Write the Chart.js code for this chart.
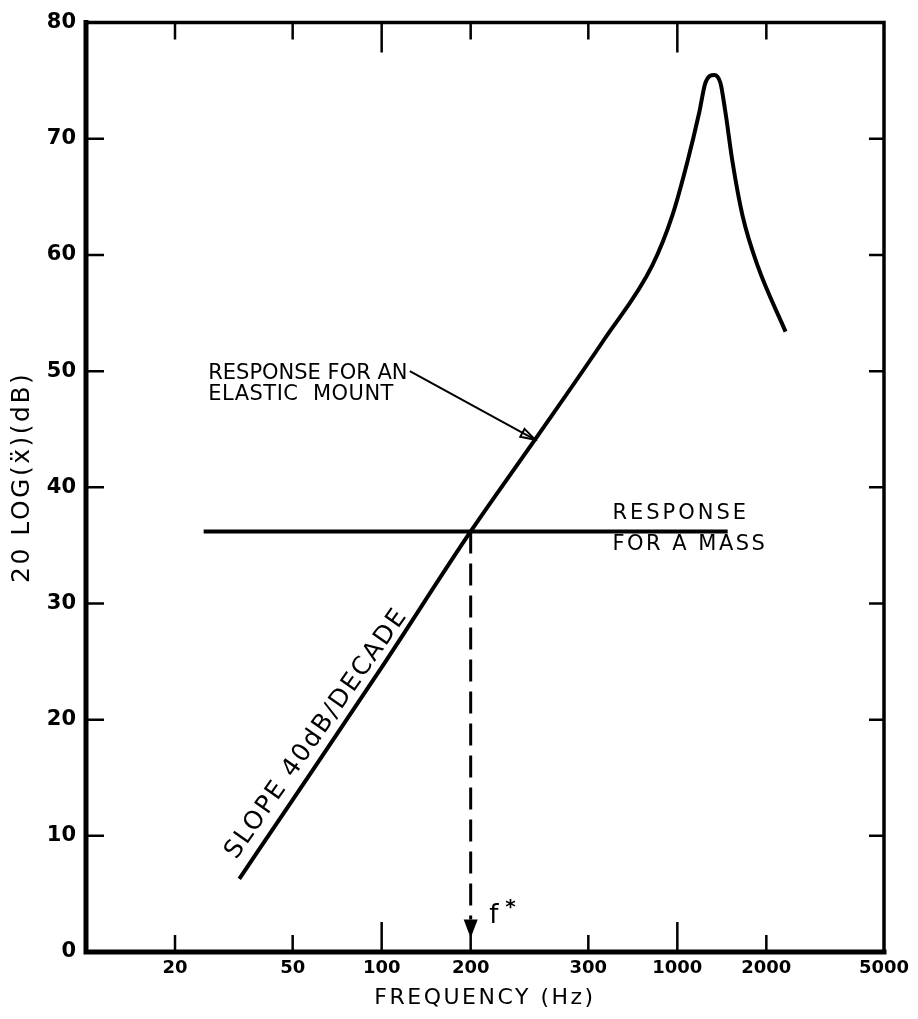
<!DOCTYPE html>
<html>
<head>
<meta charset="utf-8">
<script src="https://cdn.jsdelivr.net/npm/chart.js@4.4.1/dist/chart.umd.min.js"></script>
<style>
    html, body { margin: 0; padding: 0; background: #fff; }
</style>
</head>
<body>
<canvas id="chart" width="918" height="1019"></canvas>
<script>
// axis ticks (the original sheet labels the 500 Hz tick "300")
const xTickValues = [20, 50, 100, 200, 500, 1000, 2000, 5000]
const xTickLabels = ['20', '50', '100', '200', '300', '1000', '2000', '5000']
const xLongTicks = [100, 1000]
const yTickValues = [0, 10, 20, 30, 40, 50, 60, 70, 80]

// response for an elastic mount
const elasticFreq = [33, 50, 100, 200, 330, 565, 823, 962, 1081, 1187, 1244, 1335, 1399, 1454, 1537, 1661, 1867, 2323]
const elasticDb = [6.3, 13.1, 24.5, 36.2, 44.1, 52.7, 59.1, 63.4, 68.0, 72.3, 74.8, 75.5, 74.8, 72.3, 68.0, 63.4, 59.1, 53.4]

// response for a mass
const massFreq = [25, 1480]
const massDb = [36.2, 36.2]

// f* marker
const fStarFreq = [200, 200]
const fStarDb = [36.2, 2.8]
const fStarTipDb = 1.2

const notes = [
    { text: 'RESPONSE FOR AN', f: 25.9, db: 49.8, size: 21, spacing: 0 },
    { text: 'ELASTIC  MOUNT', f: 25.9, db: 48.0, size: 21, spacing: 0.5 },
    { text: 'RESPONSE', f: 603, db: 37.7, size: 21, spacing: 3 },
    { text: 'FOR A MASS', f: 603, db: 35.1, size: 21, spacing: 2.5 }
]
const leaderFrom = { f: 124.5, db: 50.0 }
const leaderTo = { f: 330, db: 44.1 }
const slopeNote = { text: 'SLOPE 40dB/DECADE', f: 60.3, db: 18.8, size: 25, spacing: 2, angle: -55 }
const fStarNote = { f: 231, db: 2.5 }

const pts = (xs, ys) => xs.map((x, i) => ({ x, y: ys[i] }))

const framePlugin = {
    id: 'frame',
    afterDatasetsDraw(chart) {
        const { ctx, chartArea: { left, right, top, bottom }, scales: { x, y } } = chart
        ctx.save()
        ctx.strokeStyle = '#000'
        ctx.fillStyle = '#000'
        ctx.lineCap = 'square'

        // frame
        ctx.lineWidth = 5
        ctx.beginPath()
        ctx.moveTo(left, top); ctx.lineTo(left, bottom); ctx.lineTo(right, bottom)
        ctx.stroke()
        ctx.lineWidth = 3.5
        ctx.beginPath()
        ctx.moveTo(left, top); ctx.lineTo(right, top); ctx.lineTo(right, bottom)
        ctx.stroke()

        // inner ticks
        ctx.lineWidth = 2.5
        ctx.lineCap = 'butt'
        ctx.beginPath()
        xTickValues.forEach(v => {
            const px = x.getPixelForValue(v)
            if (px >= right - 2) return
            const len = xLongTicks.includes(v) ? 30 : 17
            ctx.moveTo(px, bottom); ctx.lineTo(px, bottom - len)
            ctx.moveTo(px, top); ctx.lineTo(px, top + len)
        })
        yTickValues.forEach(v => {
            if (v === 0 || v === 80) return
            const py = y.getPixelForValue(v)
            ctx.moveTo(left, py); ctx.lineTo(left + 18, py)
            ctx.moveTo(right, py); ctx.lineTo(right - 15, py)
        })
        ctx.stroke()

        // f* arrow head
        const ax = x.getPixelForValue(fStarFreq[1])
        const ab = y.getPixelForValue(fStarDb[1])
        const at = y.getPixelForValue(fStarTipDb)
        ctx.beginPath()
        ctx.moveTo(ax - 7, ab); ctx.lineTo(ax + 7, ab); ctx.lineTo(ax, at); ctx.closePath()
        ctx.fill()

        // leader arrow
        const lx0 = x.getPixelForValue(leaderFrom.f), ly0 = y.getPixelForValue(leaderFrom.db)
        const lx1 = x.getPixelForValue(leaderTo.f), ly1 = y.getPixelForValue(leaderTo.db)
        ctx.lineWidth = 2
        ctx.beginPath()
        ctx.moveTo(lx0, ly0); ctx.lineTo(lx1, ly1)
        ctx.stroke()
        const ang = Math.atan2(ly1 - ly0, lx1 - lx0)
        ctx.beginPath()
        ctx.moveTo(lx1, ly1)
        ctx.lineTo(lx1 - 15 * Math.cos(ang - 0.3), ly1 - 15 * Math.sin(ang - 0.3))
        ctx.lineTo(lx1 - 15 * Math.cos(ang + 0.3), ly1 - 15 * Math.sin(ang + 0.3))
        ctx.closePath()
        ctx.stroke()

        // notes
        ctx.textBaseline = 'middle'
        ctx.textAlign = 'left'
        notes.forEach(n => {
            ctx.font = `${n.size}px "DejaVu Sans"`
            ctx.letterSpacing = `${n.spacing}px`
            ctx.fillText(n.text, x.getPixelForValue(n.f), y.getPixelForValue(n.db))
        })

        ctx.save()
        ctx.translate(x.getPixelForValue(slopeNote.f), y.getPixelForValue(slopeNote.db))
        ctx.rotate(slopeNote.angle * Math.PI / 180)
        ctx.textAlign = 'center'
        ctx.font = `${slopeNote.size}px "DejaVu Sans"`
        ctx.letterSpacing = `${slopeNote.spacing}px`
        ctx.fillText(slopeNote.text, 0, 0)
        ctx.restore()

        ctx.letterSpacing = '0px'
        ctx.textBaseline = 'alphabetic'
        const fx = x.getPixelForValue(fStarNote.f), fy = y.getPixelForValue(fStarNote.db)
        ctx.font = '26px "DejaVu Sans"'
        ctx.fillText('f', fx, fy)
        ctx.font = 'bold 20px "DejaVu Sans"'
        ctx.fillText('*', fx + 16, fy - 10)

        // axis titles
        ctx.textAlign = 'center'
        ctx.textBaseline = 'middle'
        ctx.font = '22px "DejaVu Sans"'
        ctx.letterSpacing = '2.5px'
        ctx.fillText('FREQUENCY (Hz)', (left + right) / 2, 998)

        ctx.save()
        ctx.translate(22, (top + bottom) / 2 - 10)
        ctx.rotate(-Math.PI / 2)
        ctx.font = '25px "DejaVu Sans"'
        ctx.letterSpacing = '2.5px'
        ctx.fillText('20 LOG(x\u0308)(dB)', 0, 0)
        ctx.restore()

        ctx.restore()
    }
}

new Chart(document.getElementById('chart').getContext('2d'), {
    type: 'scatter',
    data: {
        datasets: [
            {
                data: pts(elasticFreq, elasticDb),
                showLine: true,
                borderColor: '#000',
                borderWidth: 4,
                pointRadius: 0,
                cubicInterpolationMode: 'monotone'
            },
            {
                data: pts(massFreq, massDb),
                showLine: true,
                borderColor: '#000',
                borderWidth: 4,
                pointRadius: 0
            },
            {
                data: pts(fStarFreq, fStarDb),
                showLine: true,
                borderColor: '#000',
                borderWidth: 3,
                borderDash: [22, 10],
                pointRadius: 0
            }
        ]
    },
    options: {
        responsive: false,
        animation: false,
        layout: { padding: { top: 20, right: 34, left: 0, bottom: 0 } },
        plugins: {
            legend: { display: false },
            tooltip: { enabled: false }
        },
        scales: {
            x: {
                type: 'logarithmic',
                min: 10,
                max: 5000,
                afterBuildTicks: s => { s.ticks = xTickValues.map(v => ({ value: v })) },
                afterFit: s => { s.height = 67 },
                ticks: {
                    autoSkip: false,
                    maxRotation: 0,
                    padding: 6,
                    color: '#000',
                    font: { family: 'DejaVu Sans', size: 18, weight: 'bold' },
                    callback: v => xTickLabels[xTickValues.indexOf(v)]
                },
                grid: { display: false, drawTicks: false },
                border: { display: false }
            },
            y: {
                min: 0,
                max: 80,
                afterBuildTicks: s => { s.ticks = yTickValues.map(v => ({ value: v })) },
                afterFit: s => { s.width = 86 },
                ticks: {
                    padding: 10,
                    color: '#000',
                    font: { family: 'DejaVu Sans', size: 21, weight: 'bold' }
                },
                grid: { display: false, drawTicks: false },
                border: { display: false }
            }
        }
    },
    plugins: [framePlugin]
})
</script>
</body>
</html>
